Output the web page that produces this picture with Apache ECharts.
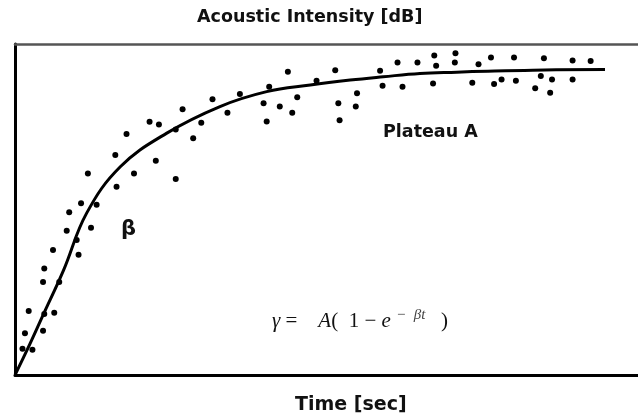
<!DOCTYPE html>
<html>
<head>
<meta charset="utf-8">
<script src="https://cdn.jsdelivr.net/npm/echarts@6/dist/echarts.min.js"></script>
<style>
  html, body { margin: 0; padding: 0; background: #fff; }
  #chart { width: 638px; height: 417px; }
</style>
</head>
<body>
<div id="chart"></div>
<script>
// measured time (arbitrary units, 0-100) and intensity (0-100)
const pointTime = [
  31.7, 26.9, 21.6, 23.1, 25.8, 29.9, 28.6, 17.9, 16.1, 22.6, 19.1, 25.8,
  11.7, 16.3, 10.6, 13.1, 8.7, 12.2, 8.3, 9.9, 6.1, 10.2, 4.7, 4.5, 7.1,
  2.2, 4.7, 6.3, 4.5, 1.6, 1.2, 2.8,
  34.1, 36.1, 39.9, 40.4, 40.8, 42.5, 43.8, 44.5, 45.3, 48.4, 51.4, 51.9,
  52.1, 54.7, 54.9, 58.6, 59.0, 61.4, 62.2, 64.6,
  67.3, 67.6, 67.1, 70.7, 70.6, 74.4, 73.4, 76.4, 76.9, 78.1, 80.1, 80.4,
  83.5, 84.4, 84.9, 86.2, 85.9, 89.5, 89.5, 92.4
];
const pointIntensity = [
  83.3, 80.3, 76.5, 75.7, 74.2, 76.2, 71.5, 72.8, 66.5, 64.7, 60.9, 59.2,
  60.9, 56.9, 51.9, 51.4, 49.2, 44.5, 43.6, 40.8, 37.8, 36.3, 32.2, 28.1, 28.1,
  19.3, 18.4, 18.8, 13.4, 12.6, 7.9, 7.6,
  79.2, 84.9, 82.1, 76.6, 87.1, 81.1, 91.6, 79.2, 83.9, 88.9, 92.1, 82.1,
  77.0, 81.1, 85.1, 91.9, 87.4, 94.4, 87.1, 94.4,
  96.5, 93.4, 88.1, 97.2, 94.4, 93.9, 88.3, 95.9, 87.9, 89.3, 95.9, 88.9,
  86.6, 90.3, 95.7, 89.3, 85.3, 95.0, 89.3, 94.9
];
// fitted curve
const curveTime = [0, 2.0, 4.5, 7.8, 11.5, 16.9, 24.3, 32.9, 40.4, 47.4, 53.8, 59.1, 65.0, 70.9, 75.9, 83.1, 94.7];
const curveIntensity = [0, 7.8, 18.1, 31.7, 48.9, 62.9, 73.0, 81.1, 85.6, 87.6, 89.1, 90.1, 91.1, 91.5, 91.8, 92.1, 92.3];

const titleText = "Acoustic Intensity [dB]";
const xAxisText = "Time [sec]";

const chart = echarts.init(document.getElementById("chart"));
const boldFont = "DejaVu Sans";

const bareAxis = {
  type: "value", min: 0, max: 100,
  axisTick: { show: false }, axisLabel: { show: false }, splitLine: { show: false }
};

chart.setOption({
  animation: false,
  backgroundColor: "#fff",
  grid: { left: 15, right: 0, top: 44, bottom: 42 },
  xAxis: [
    Object.assign({}, bareAxis, {
      position: "bottom",
      axisLine: { show: true, onZero: false, lineStyle: { color: "#000", width: 3 } }
    }),
    Object.assign({}, bareAxis, {
      position: "top",
      axisLine: { show: true, onZero: false, lineStyle: { color: "#555", width: 2.5 } }
    })
  ],
  yAxis: Object.assign({}, bareAxis, {
    axisLine: { show: true, onZero: false, lineStyle: { color: "#000", width: 3 } }
  }),
  series: [
    {
      type: "scatter",
      symbol: "circle",
      symbolSize: 6,
      itemStyle: { color: "#000", opacity: 1 },
      data: pointTime.map((t, i) => [t, pointIntensity[i]])
    },
    {
      type: "line",
      smooth: 0.4,
      showSymbol: false,
      lineStyle: { color: "#000", width: 3 },
      data: curveTime.map((t, i) => [t, curveIntensity[i]])
    }
  ],
  graphic: [
    {
      type: "text", left: 197, top: 8,
      style: { text: titleText, font: "bold 17.5px " + boldFont, fill: "#111" }
    },
    {
      type: "text", left: 295, top: 396,
      style: { text: xAxisText, font: "bold 19px " + boldFont, fill: "#111" }
    },
    {
      type: "text", left: 383, top: 123,
      style: { text: "Plateau A", font: "bold 17.5px " + boldFont, fill: "#111" }
    },
    {
      type: "text", left: 121, top: 219,
      style: { text: "β", font: "bold 21px " + boldFont, fill: "#111" }
    },
    {
      type: "text", left: 272, top: 308,
      style: {
        text: "{i|γ}{n| =    }{i|A}{n|(  1 − }{i|e}{n| }{s|−  βt}{n|   )}",
        rich: {
          i: { fontFamily: "Liberation Serif", fontStyle: "italic", fontSize: 21, fill: "#111" },
          n: { fontFamily: "Liberation Serif", fontSize: 21, fill: "#111" },
          s: { fontFamily: "Liberation Serif", fontStyle: "italic", fontSize: 15, fill: "#444", verticalAlign: "top", padding: [0, 0, 12, 0] }
        }
      }
    }
  ]
});
</script>
</body>
</html>
